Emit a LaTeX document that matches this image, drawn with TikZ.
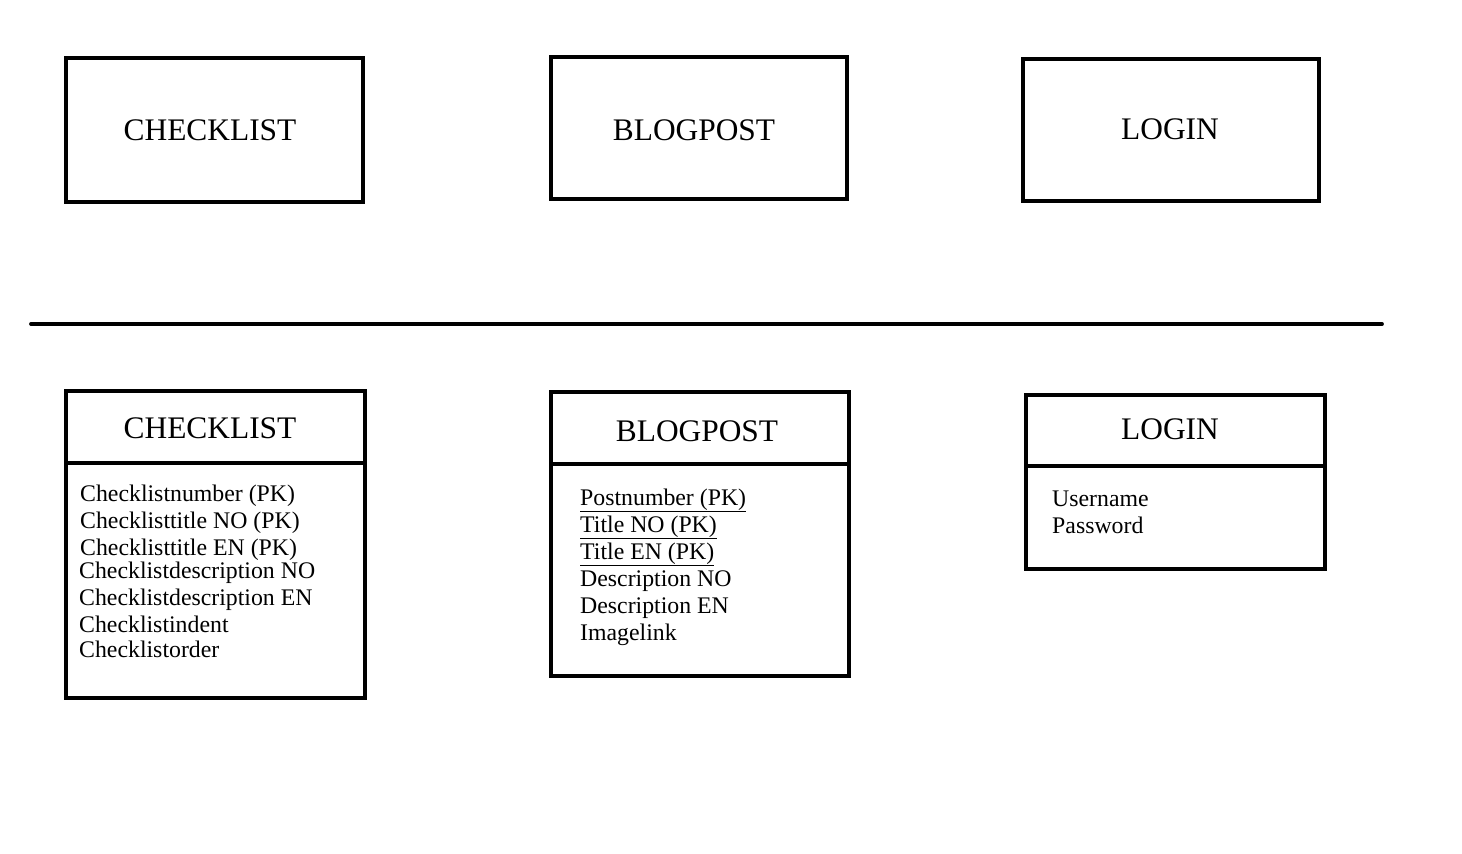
\documentclass[tikz,border=0pt]{standalone}
\usepackage{fontspec}
\setmainfont{Liberation Serif}
\begin{document}
\begin{tikzpicture}[x=1pt,y=-1pt,
  box/.style={draw=black,line width=3.8pt,rectangle,inner sep=0pt},
  ttl/.style={font=\fontsize{31.4}{36}\selectfont,inner sep=0pt},
  fld/.style={font=\fontsize{23.8}{27}\selectfont,inner sep=0pt,anchor=base west},
  sep/.style={line width=3.8pt}]
\useasboundingbox (0,0) rectangle (1462,854);
% top row
\node[box,minimum width=297pt,minimum height=144pt] (b1) at (214.5,130) {};
\node[ttl] (b1t) at (210,130) {CHECKLIST};
\node[box,minimum width=296pt,minimum height=142pt] (b2) at (699,128) {};
\node[ttl] (b2t) at (694,130) {BLOGPOST};
\node[box,minimum width=296pt,minimum height=142pt] (b3) at (1171,130) {};
\node[ttl] (b3t) at (1170,129) {LOGIN};
% separator
\coordinate (sl) at (31,324);
\coordinate (sr) at (1382,324);
\draw[sep,line cap=round] (sl) -- (sr);
% bottom tables
\node[box,minimum width=299pt,minimum height=307pt] (c1) at (215.5,544.5) {};
\draw[sep] (c1.west |- 0,463) -- (c1.east |- 0,463);
\node[ttl] (c1t) at (210,428) {CHECKLIST};
\node[fld] (c1a) at (80,501) {Checklistnumber (PK)};
\node[fld] (c1b) at (80,528) {Checklisttitle NO (PK)};
\node[fld] (c1c) at (80,555) {Checklisttitle EN (PK)};
\node[fld] (c1d) at (79,578) {Checklistdescription NO};
\node[fld] (c1e) at (79,605) {Checklistdescription EN};
\node[fld] (c1f) at (79,632) {Checklistindent};
\node[fld] (c1g) at (79,657) {Checklistorder};

\node[box,minimum width=298pt,minimum height=284pt] (c2) at (700,534) {};
\draw[sep] (c2.west |- 0,464) -- (c2.east |- 0,464);
\node[ttl] (c2t) at (697,431) {BLOGPOST};
\node[fld] (c2a) at (580,505) {\underline{Postnumber (PK)}};
\node[fld] (c2b) at (580,532) {\underline{Title NO (PK)}};
\node[fld] (c2c) at (580,559) {\underline{Title EN (PK)}};
\node[fld] (c2d) at (580,586) {Description NO};
\node[fld] (c2e) at (580,613) {Description EN};
\node[fld] (c2f) at (580,640) {Imagelink};

\node[box,minimum width=299pt,minimum height=174pt] (c3) at (1175.5,482) {};
\draw[sep] (c3.west |- 0,466) -- (c3.east |- 0,466);
\node[ttl] (c3t) at (1170,429) {LOGIN};
\node[fld] (c3a) at (1052,506) {Username};
\node[fld] (c3b) at (1052,533) {Password};
\end{tikzpicture}
\end{document}
